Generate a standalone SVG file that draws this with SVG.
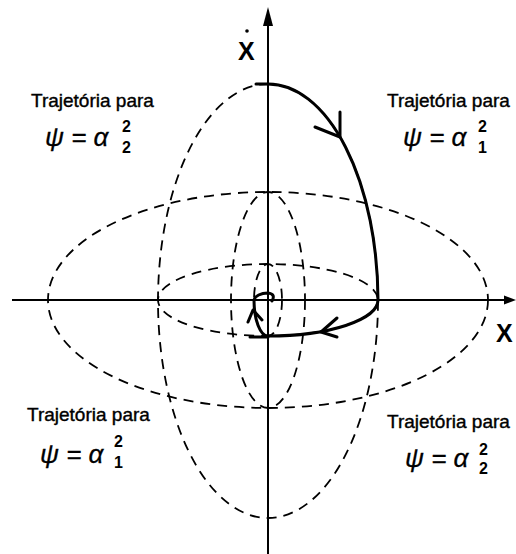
<svg xmlns="http://www.w3.org/2000/svg" width="516" height="554" viewBox="0 0 516 554">
<style>
.dash{fill:none;stroke:#000;stroke-width:1.8;stroke-dasharray:10 7}
.axis{fill:none;stroke:#000;stroke-width:2}
.traj{fill:none;stroke:#000;stroke-width:3;stroke-linecap:round;stroke-linejoin:round}
.lbl{font-family:"Liberation Sans",Arial,sans-serif;font-size:19px;fill:#000;stroke:#000;stroke-width:0.4}
.greek{font-family:"Liberation Sans",Arial,sans-serif;font-size:26px;font-style:italic;fill:#000;stroke:#000;stroke-width:0.3}
.idx{font-family:"Liberation Sans",Arial,sans-serif;font-size:16px;font-weight:bold;fill:#000}
.ax{font-family:"Liberation Sans",Arial,sans-serif;font-size:25px;font-weight:bold;fill:#000}
</style>
<rect width="516" height="554" fill="#fff"/>
<g id="trajectories-dashed">
<ellipse class="dash" cx="268" cy="301" rx="110" ry="217"/>
<ellipse class="dash" cx="268" cy="300" rx="220" ry="108"/>
<ellipse class="dash" cx="268" cy="300" rx="37" ry="108"/>
<ellipse class="dash" cx="268" cy="300" rx="110" ry="36"/>
<ellipse class="dash" cx="268" cy="300" rx="14" ry="36"/>
</g>
<g id="axes">
<line class="axis" x1="268" y1="554" x2="268" y2="22"/>
<polygon points="268,7 263,26 273,26" fill="#000"/>
<line class="axis" x1="12" y1="300" x2="504" y2="300"/>
<polygon points="516,300 504,295.5 504,304.5" fill="#000"/>
<text class="ax" x="238" y="60">X</text>
<circle cx="247" cy="31" r="1.8" fill="#000"/>
<text class="ax" x="496" y="342">X</text>
</g>
<g id="connectors">
<line class="traj" x1="256" y1="84" x2="268" y2="84"/>
<path class="traj" d="M268,84 A110,217 0 0 1 378,300 A110,36 0 0 1 268,336 A14,36 0 0 1 254,300 A14,8 0 0 1 268,293 Q276,294 272,301"/>
<line class="traj" x1="250" y1="337" x2="268" y2="337"/>
<polyline class="traj" points="315,127 340,137 340,112"/>
<polyline class="traj" points="337,318 321,332 337,337"/>
<polyline class="traj" points="248,322 253,310 262,320"/>
</g>
<g id="label-tl">
<text class="lbl" x="31" y="107">Trajetória para</text>
<text class="greek" x="45" y="146">ψ = α</text>
<text class="idx" x="122" y="132">2</text>
<text class="idx" x="122" y="153">2</text>
</g>
<g id="label-tr">
<text class="lbl" x="387" y="107">Trajetória para</text>
<text class="greek" x="403" y="146">ψ = α</text>
<text class="idx" x="478" y="132">2</text>
<text class="idx" x="478" y="153">1</text>
</g>
<g id="label-bl">
<text class="lbl" x="27" y="421">Trajetória para</text>
<text class="greek" x="40" y="463">ψ = α</text>
<text class="idx" x="114" y="447">2</text>
<text class="idx" x="114" y="468">1</text>
</g>
<g id="label-br">
<text class="lbl" x="387" y="428">Trajetória para</text>
<text class="greek" x="405" y="467">ψ = α</text>
<text class="idx" x="479" y="455">2</text>
<text class="idx" x="479" y="474">2</text>
</g>
</svg>
